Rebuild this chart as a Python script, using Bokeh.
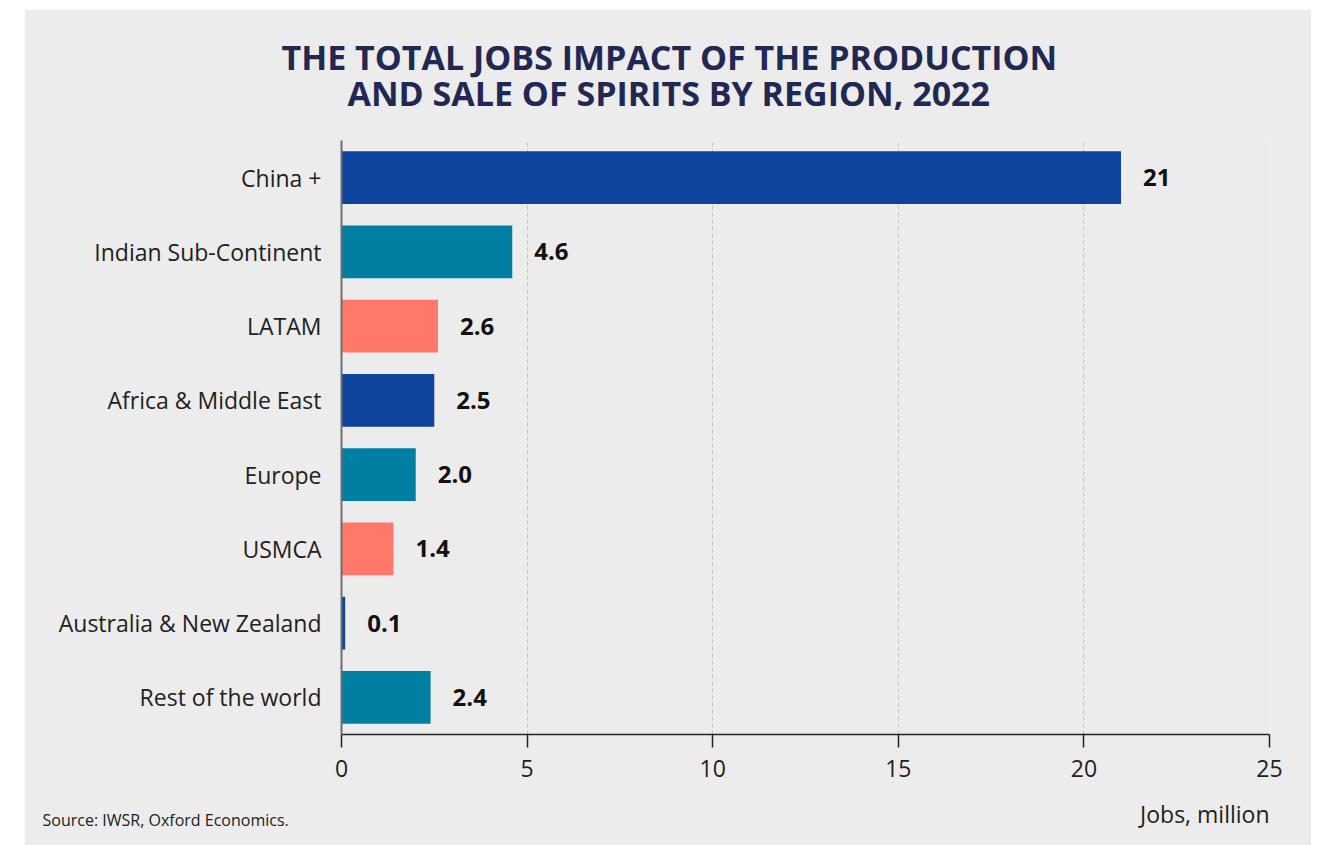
from bokeh.plotting import figure
from bokeh.models import ColumnDataSource, FactorRange, FixedTicker, Title
from bokeh.core.properties import value
from bokeh.embed import file_html
from bokeh.resources import INLINE

regions = ["China +", "Indian Sub-Continent", "LATAM", "Africa & Middle East",
           "Europe", "USMCA", "Australia & New Zealand", "Rest of the world"]
jobs = [21, 4.6, 2.6, 2.5, 2.0, 1.4, 0.1, 2.4]
value_labels = ["21", "4.6", "2.6", "2.5", "2.0", "1.4", "0.1", "2.4"]
colors = ["#0e449d", "#007fa3", "#ff786a", "#0e449d", "#007fa3", "#ff786a", "#0e449d", "#007fa3"]
x_ticks = [0, 5, 10, 15, 20, 25]

title_lines = ["THE TOTAL JOBS IMPACT OF THE PRODUCTION", "AND SALE OF SPIRITS BY REGION, 2022"]
source_text = "Source: IWSR, Oxford Economics."
x_label = "Jobs, million"

FONT = "Open Sans"
BG = "#ececec"

src = ColumnDataSource(dict(region=regions, jobs=jobs, lab=value_labels, color=colors))

p = figure(width=1287, height=836, margin=(9, 0, 0, 24),
           y_range=FactorRange(*list(reversed(regions)), range_padding=0),
           x_range=(0, 25),
           output_backend="svg", toolbar_location=None,
           min_border_left=317, min_border_right=42, min_border_top=131, min_border_bottom=109)
p.background_fill_color = BG
p.border_fill_color = BG
p.outline_line_color = None

p.hbar(y="region", right="jobs", left=0, height=0.71, color="color", line_color=None, source=src)
p.text(x="jobs", y="region", text="lab", source=src, x_offset=22,
       text_baseline="middle", text_align="left",
       text_font=value(FONT), text_font_style="bold", text_font_size="24px", text_color="#111111")

# axes
p.xaxis.ticker = FixedTicker(ticks=x_ticks)
p.xaxis.axis_line_color = "#222222"
p.xaxis.axis_line_width = 1.5
p.xaxis.major_tick_line_color = "#222222"
p.xaxis.major_tick_line_width = 1.5
p.xaxis.major_tick_out = 13
p.xaxis.major_tick_in = 0
p.xaxis.minor_tick_line_color = None
p.xaxis.major_label_text_font = FONT
p.xaxis.major_label_text_font_size = "23px"
p.xaxis.major_label_text_color = "#222222"
p.xaxis.major_label_standoff = 12

p.yaxis.axis_line_color = "#6e6e6e"
p.yaxis.axis_line_width = 2
p.yaxis.major_tick_line_color = None
p.yaxis.minor_tick_line_color = None
p.yaxis.major_label_text_font = FONT
p.yaxis.major_label_text_font_size = "23px"
p.yaxis.major_label_text_color = "#222222"
p.yaxis.major_label_standoff = 14

p.ygrid.grid_line_color = None
p.xgrid.grid_line_color = "#c4c4c4"
p.xgrid.grid_line_dash = "4 3"
p.xgrid.grid_line_width = 1

# title (two stacked titles; the later one sits further from the frame)
p.title.visible = False
p.add_layout(Title(text=title_lines[1], align="left", offset=6, standoff=50,
                   text_font=FONT, text_font_style="bold", text_font_size="34px",
                   text_color="#232853"), "above")
p.add_layout(Title(text=title_lines[0], align="left", offset=-60, standoff=-74,
                   text_font=FONT, text_font_style="bold", text_font_size="34px",
                   text_color="#232853"), "above")

# bottom texts
p.add_layout(Title(text=x_label, align="right", offset=0, standoff=32,
                   text_font=FONT, text_font_style="normal", text_font_size="23px",
                   text_color="#222222"), "below")
p.add_layout(Title(text=source_text, align="left", vertical_align="top", offset=-299, standoff=-73,
                   text_font=FONT, text_font_style="normal", text_font_size="16px",
                   text_color="#222222"), "below")

open("out.html", "w").write(file_html(p, INLINE))
